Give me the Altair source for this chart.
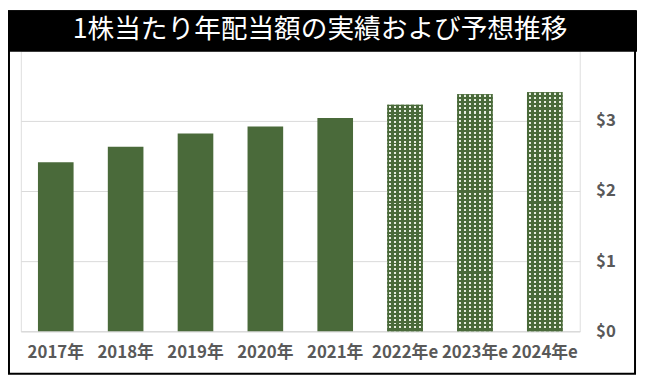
import altair as alt
import pandas as pd

title_text = "1株当たり年配当額の実績および予想推移"
years = ["2017年", "2018年", "2019年", "2020年", "2021年", "2022年e", "2023年e", "2024年e"]
dividends = [2.41, 2.63, 2.82, 2.92, 3.04, 3.23, 3.38, 3.41]
forecast = [False, False, False, False, False, True, True, True]
y_ticks = [0, 1, 2, 3]

df = pd.DataFrame({"year": years, "value": dividends, "forecast": forecast})

GREEN = "#4a6a3a"
CLEAR = "rgba(74,106,58,0)"
LABEL = "#595959"
GRID = "#d9d9d9"

W, H = 566, 284


def stripe_stops(length, pitch, gap, start):
    stops = [{"offset": 0, "color": GREEN}]
    p = start
    while p + gap < length:
        a, b = p / length, (p + gap) / length
        stops += [{"offset": a, "color": GREEN}, {"offset": a, "color": CLEAR},
                  {"offset": b, "color": CLEAR}, {"offset": b, "color": GREEN}]
        p += pitch
    stops.append({"offset": 1, "color": GREEN})
    return stops


vgrad = {"gradient": "linear", "x1": 0, "x2": 1, "y1": 0, "y2": 0,
         "stops": stripe_stops(36, 5, 2, 2)}
hgrad = {"gradient": "linear", "x1": 0, "x2": 0, "y1": 0, "y2": 1,
         "stops": stripe_stops(234, 4, 2, 1)}

xscale = alt.Scale(domain=years, paddingInner=0.49, paddingOuter=0.245)
yscale = alt.Scale(domain=[0, 4], nice=False)

base = alt.Chart(df).encode(
    x=alt.X("year:N", sort=years, scale=xscale,
            axis=alt.Axis(title=None, labelAngle=0, ticks=False, tickSize=0,
                          labelPadding=14, labelFontSize=17, labelFontWeight="bold",
                          labelColor=LABEL, labelFont="Noto Sans CJK JP",
                          labelOverlap=False, domainColor=GRID, domainWidth=1)),
    y=alt.Y("value:Q", scale=yscale,
            axis=alt.Axis(title=None, orient="right", values=y_ticks,
                          labelExpr="'$' + datum.value", ticks=False, domain=False,
                          labelPadding=16, labelFontSize=17, labelFontWeight="bold",
                          labelColor=LABEL, labelFont="Noto Sans CJK JP",
                          gridColor=GRID, gridWidth=1)),
)

actual = base.transform_filter("!datum.forecast").mark_bar(color=GREEN)
fc_base = base.transform_filter("datum.forecast").mark_bar(color="#e6eddf")
fc_v = base.transform_filter("datum.forecast").mark_bar(fill=vgrad)
fc_h = base.transform_filter("datum.forecast").mark_bar(fill=hgrad)

deco = pd.DataFrame({"t": [title_text]})
title_bar = alt.Chart(deco).mark_rect(color="black").encode(
    x=alt.value(-13), x2=alt.value(624), y=alt.value(-41), y2=alt.value(1))
title = alt.Chart(deco).mark_text(
    color="white", fontSize=27, font="Noto Sans CJK JP", fontWeight="normal",
    align="center", baseline="middle").encode(
    x=alt.value(303), y=alt.value(-21), text="t:N")
border = alt.Chart(deco).mark_rect(filled=False, stroke="black", strokeWidth=2).encode(
    x=alt.value(-12), x2=alt.value(622), y=alt.value(-40), y2=alt.value(327))

chart = alt.layer(title_bar, actual, fc_base, fc_v, fc_h, title, border).properties(
    width=W, height=H,
    autosize=alt.AutoSizeParams(type="none"),
    padding={"left": 13, "top": 41, "right": 58, "bottom": 45},
).configure_view(stroke=None).configure(background="white")

chart.save("out.html", embed_options={"renderer": "svg", "actions": False})
